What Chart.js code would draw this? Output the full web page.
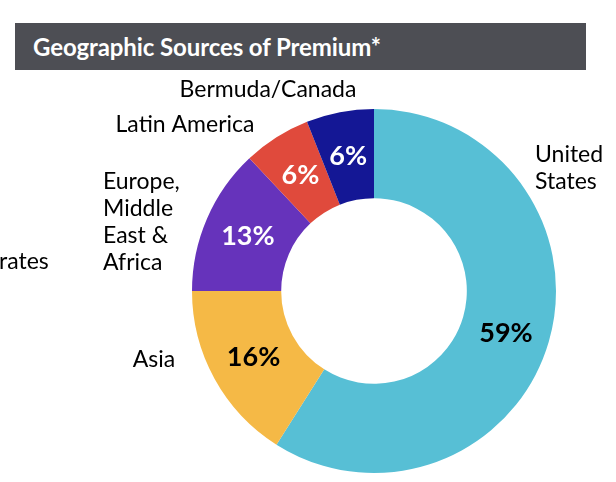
<!DOCTYPE html>
<html>
<head>
<meta charset="utf-8">
<script src="https://cdn.jsdelivr.net/npm/chart.js@4"></script>
<style>
  body { margin: 0; background: #fff; }
  #wrap { position: relative; width: 616px; height: 482px; overflow: hidden; }
  #title {
    position: absolute; left: 15px; top: 23px; width: 571px; height: 47px;
    background: #4d4e54; color: #fff;
    font: bold 24px Lato, sans-serif; line-height: 47px;
    padding-left: 18px; box-sizing: border-box; letter-spacing: -0.1px;
  }
  canvas { position: absolute; left: 0; top: 0; }
</style>
</head>
<body>
<div id="wrap">
  <canvas id="donut" width="616" height="482"></canvas>
  <div id="title">Geographic Sources of Premium*</div>
</div>
<script>
// Data
const regions = ['United States', 'Asia', 'Europe, Middle East & Africa', 'Latin America', 'Bermuda/Canada'];
const shares = [59, 16, 13, 6, 6];
const sliceColors = ['#57bfd5', '#f5b946', '#6633bb', '#e04a3c', '#141795'];
const pctColors = ['#000', '#000', '#fff', '#fff', '#fff'];

// Outside label text (line-broken as in the report) and where it sits relative to the ring centre
const labelLines = [
    ['United', 'States'],
    ['Asia'],
    ['Europe,', 'Middle', 'East &', 'Africa'],
    ['Latin America'],
    ['Bermuda/Canada']
];
const labelPlace = [
    { dx: 161, dy: -136, align: 'left' },
    { dx: -220, dy: 69, align: 'center' },
    { dx: -271, dy: -109, align: 'left' },
    { dx: -189, dy: -166, align: 'center' },
    { dx: -106, dy: -201, align: 'center' }
];

const labelPlugin = {
    id: 'sliceLabels',
    afterDatasetsDraw(chart) {
        const ctx = chart.ctx;
        const arcs = chart.getDatasetMeta(0).data;
        const cx = arcs[0].x, cy = arcs[0].y;
        ctx.save();
        ctx.textBaseline = 'middle';

        // percentages inside the ring
        ctx.font = 'bold 27px Lato, sans-serif';
        ctx.textAlign = 'center';
        arcs.forEach((arc, i) => {
            const p = arc.tooltipPosition();
            ctx.fillStyle = pctColors[i];
            ctx.fillText(shares[i] + '%', p.x, p.y + (i === 0 ? 4 : 0));
        });

        // region names outside
        ctx.font = '23px Lato, sans-serif';
        ctx.fillStyle = '#000';
        labelLines.forEach((lines, i) => {
            const pl = labelPlace[i];
            ctx.textAlign = pl.align;
            lines.forEach((t, j) => {
                ctx.fillText(t, cx + pl.dx, cy + pl.dy + j * 27);
            });
        });

        // clipped fragment of neighbouring text at the left edge
        ctx.textAlign = 'left';
        ctx.fillText('rates', -1, 262);
        ctx.restore();
    }
};

new Chart(document.getElementById('donut'), {
    type: 'doughnut',
    data: {
        labels: regions,
        datasets: [{
            data: shares,
            backgroundColor: sliceColors,
            borderWidth: 0
        }]
    },
    options: {
        responsive: false,
        animation: false,
        cutout: '51%',
        layout: {
            padding: { left: 192, right: 60, top: 109, bottom: 9 }
        },
        plugins: {
            legend: { display: false },
            tooltip: { enabled: false }
        }
    },
    plugins: [labelPlugin]
});
</script>
</body>
</html>
